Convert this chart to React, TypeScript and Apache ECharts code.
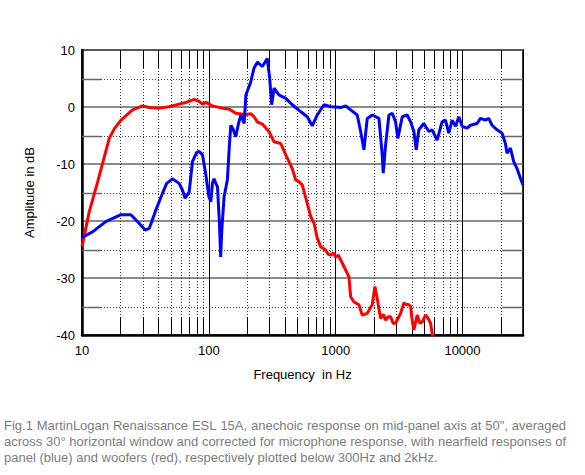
import React, { useEffect, useRef } from 'react';
import * as echarts from 'echarts';

const redFreq = [10, 11.4, 13.3, 16.4, 18, 20.3, 25, 30, 33.9, 40.6, 48.6, 58.3, 65.9, 76.6, 83.9, 89.2, 94.9, 106.6, 128, 144.5, 163, 196, 215, 227, 241, 264, 298, 327, 369, 404, 455, 484, 514, 546, 597, 635, 675, 716, 762, 834, 870, 914, 960, 1000, 1050, 1094, 1199, 1273, 1313, 1393, 1525, 1619, 1774, 1942, 2039, 2127, 2260, 2380, 2475, 2600, 2711, 2850, 2968, 3150, 3250, 3451, 3556, 3779, 3896, 4012, 4138, 4394, 4600, 4812, 5117, 5265, 5598, 5765, 5900];
const redDb = [-24.5, -18.4, -13.1, -5.5, -3.8, -2.3, -0.5, 0.2, -0.1, -0.2, 0.05, 0.5, 0.8, 1.35, 1.0, 0.5, 0.8, 0.2, -0.2, -0.35, -1.1, -1.3, -1.2, -1.7, -2.6, -3.0, -4.3, -6.1, -6.4, -8.4, -10.8, -12.8, -13.1, -13.7, -16.9, -19.2, -20.4, -23.0, -24.5, -25.1, -25.8, -26.0, -25.6, -26.3, -26.0, -26.8, -28.6, -29.8, -33.3, -34.2, -34.7, -36.5, -36.2, -34.7, -31.5, -33.6, -37.1, -36.4, -37.4, -36.8, -36.8, -38.0, -37.9, -36.8, -36.2, -34.4, -34.6, -34.7, -35.0, -37.4, -39.1, -36.5, -37.9, -37.7, -36.5, -36.8, -37.9, -39.7, -40.5];

const blueFreq = [10, 12.1, 15.4, 20.3, 24.3, 28.2, 31.5, 33.9, 38.2, 43.2, 46.5, 51.6, 58.3, 62, 65, 70, 74.3, 80, 83.9, 89.2, 94.7, 100, 103.8, 106.7, 110, 114, 117, 121, 124, 126.5, 132, 140, 145, 149, 156, 163, 171, 179, 190, 196, 214, 227, 242, 264, 289, 302, 313, 327, 358, 404, 455, 529, 597, 654, 716, 809, 914, 1000, 1094, 1199, 1313, 1479, 1574, 1671, 1774, 1942, 2194, 2329, 2372, 2475, 2630, 2793, 2968, 3093, 3350, 3664, 3896, 4138, 4318, 4528, 4955, 5433, 5765, 6310, 6902, 7337, 7798, 8281, 8810, 9354, 9937, 10870, 11560, 13030, 13860, 15170, 16110, 17110, 18740, 20510, 21800, 22450, 23880, 25350, 26910, 28620, 30000];
const blueDb = [-22.9, -21.9, -20.1, -18.9, -18.9, -20.4, -21.6, -21.3, -18.1, -15.1, -13.4, -12.6, -13.4, -14.6, -16.0, -14.9, -9.6, -8.0, -7.8, -8.4, -11.9, -15.7, -16.6, -13.4, -12.6, -13.5, -14.0, -20, -26.3, -21.6, -15.7, -12.8, -7, -3.2, -4.0, -5.2, -3.0, -1.4, -2.9, 2.1, 4.4, 6.8, 7.9, 7.1, 8.5, 5.0, 0.4, 3.3, 2.1, 1.5, 0.4, -0.8, -1.7, -3.3, -1.4, 0.4, 0.05, 0, -0.1, 0.2, -0.5, -1.4, -4.3, -7.5, -2.0, -1.4, -2.0, -8.4, -11.6, -6.7, -1.4, -1.1, -2.6, -5.5, -1.7, -1.4, -2.6, -4.3, -7.5, -4.0, -2.9, -4.3, -4.0, -5.8, -2.6, -2.3, -4.6, -2.3, -3.4, -1.7, -3.4, -3.7, -3.2, -2.9, -2.0, -2.3, -2.0, -3.2, -4.0, -4.6, -6.4, -8.1, -7.2, -9.6, -10.8, -12.5, -13.7];

const xTickLabels = ['10', '100', '1000', '10000'];
const minorFreqs = [20, 30, 40, 50, 60, 70, 80, 90, 200, 300, 400, 500, 600, 700, 800, 900, 2000, 3000, 4000, 5000, 6000, 7000, 8000, 9000, 20000];
const minorDb = [5, -5, -15, -25, -35];
const captionLines = [
  'Fig.1 MartinLogan Renaissance ESL 15A, anechoic response on mid-panel axis at 50", averaged',
  'across 30\u00b0 horizontal window and corrected for microphone response, with nearfield responses of',
  'panel (blue) and woofers (red), respectively plotted below 300Hz and 2kHz.',
];

const X_MIN = 10;
const X_MAX = 30000;
const Y_MIN = -40;
const Y_MAX = 10;
const FONT = '"Liberation Sans", Arial, sans-serif';
const CAP_SIZE = 13;

function captionGraphics() {
  const ctx = document.createElement('canvas').getContext('2d')!;
  ctx.font = `${CAP_SIZE}px "Liberation Sans"`;
  const measure = (s: string) => ctx.measureText(s).width;
  const left = 4;
  const right = 566;
  const els: any[] = [];
  captionLines.forEach((line, i) => {
    const y = 425 + i * 16.4;
    const base = { fill: '#7c7c7c', fontSize: CAP_SIZE, fontFamily: FONT, verticalAlign: 'middle' };
    if (i < captionLines.length - 1) {
      const words = line.split(' ');
      const total = words.reduce((a, w) => a + measure(w), 0);
      const gap = (right - left - total) / (words.length - 1);
      let x = left;
      words.forEach((w) => {
        els.push({ type: 'text', x, y, silent: true, style: { ...base, text: w } });
        x += measure(w) + gap;
      });
    } else {
      els.push({ type: 'text', x: left, y, silent: true, style: { ...base, text: line } });
    }
  });
  return els;
}

export default function App() {
  const ref = useRef<HTMLDivElement>(null);
  useEffect(() => {
    const chart = echarts.init(ref.current!, null, { renderer: 'svg' });
    const red = redFreq.map((f, i) => [f, redDb[i]]);
    const blue = blueFreq.map((f, i) => [f, blueDb[i]]);
    chart.setOption({
      animation: false,
      backgroundColor: '#fff',
      grid: {
        left: 82, right: 62, top: 50, bottom: 140,
        show: true, borderColor: '#333', borderWidth: 2,
      },
      xAxis: {
        type: 'log', logBase: 10, min: X_MIN, max: X_MAX,
        name: 'Frequency  in Hz', nameLocation: 'middle', nameGap: 33,
        nameTextStyle: { color: '#000', fontSize: 13, fontFamily: FONT },
        axisLine: { show: true, onZero: false, lineStyle: { color: '#000', width: 2.5 } },
        axisTick: { show: false },
        axisLabel: {
          color: '#000', fontSize: 13, fontFamily: FONT, margin: 9,
          formatter: (v: number) => {
            const s = String(Math.round(v));
            return xTickLabels.includes(s) ? s : '';
          },
        },
        splitLine: { show: true, lineStyle: { color: '#000', width: 1 } },
      },
      yAxis: {
        type: 'value', min: Y_MIN, max: Y_MAX, interval: 10,
        name: 'Amplitude in dB', nameLocation: 'middle', nameGap: 46,
        nameTextStyle: { color: '#000', fontSize: 13, fontFamily: FONT },
        axisLine: { show: true, onZero: false, lineStyle: { color: '#000', width: 2.5 } },
        axisTick: { show: false },
        axisLabel: { color: '#000', fontSize: 13, fontFamily: FONT, margin: 7 },
        splitLine: { show: true, lineStyle: { color: '#666', width: 1.5 } },
      },
      graphic: captionGraphics(),
      series: [
        {
          type: 'custom', z: 1, silent: true, clip: false,
          data: minorFreqs.map((f) => [f, Y_MIN]),
          renderItem: (params: any, api: any) => {
            const f = api.value(0);
            const top = api.coord([f, Y_MAX]);
            const bot = api.coord([f, Y_MIN]);
            const x = Math.round(top[0]) + 0.5;
            return {
              type: 'group', children: [
                { type: 'line', shape: { x1: x, y1: top[1] + 18, x2: x, y2: bot[1] - 18 }, style: { stroke: '#333', lineWidth: 1, lineDash: [1, 2] } },
                { type: 'line', shape: { x1: x, y1: top[1], x2: x, y2: top[1] + 18 }, style: { stroke: '#000', lineWidth: 1 } },
                { type: 'line', shape: { x1: x, y1: bot[1] - 18, x2: x, y2: bot[1] }, style: { stroke: '#000', lineWidth: 1 } },
              ],
            };
          },
        },
        {
          type: 'custom', z: 1, silent: true, clip: false,
          data: minorDb.map((d) => [X_MIN, d]),
          renderItem: (params: any, api: any) => {
            const d = api.value(1);
            const l = api.coord([X_MIN, d]);
            const r = api.coord([X_MAX, d]);
            const y = Math.round(l[1]) + 0.5;
            return {
              type: 'group', children: [
                { type: 'line', shape: { x1: l[0] + 19, y1: y, x2: r[0] - 21, y2: y }, style: { stroke: '#444', lineWidth: 1, lineDash: [1, 2] } },
                { type: 'line', shape: { x1: l[0], y1: y, x2: l[0] + 19, y2: y }, style: { stroke: '#666', lineWidth: 1.5 } },
                { type: 'line', shape: { x1: r[0] - 21, y1: y, x2: r[0], y2: y }, style: { stroke: '#666', lineWidth: 1.5 } },
              ],
            };
          },
        },
        {
          type: 'line', name: 'woofers', data: red, showSymbol: false, symbol: 'none', z: 3,
          lineStyle: { color: '#ff0000', width: 3 }, clip: true,
        },
        {
          type: 'line', name: 'panel', data: blue, showSymbol: false, symbol: 'none', z: 4,
          lineStyle: { color: '#0000ff', width: 3 }, clip: true,
        },
      ],
    });
    return () => chart.dispose();
  }, []);
  return <div ref={ref} style={{ position: 'fixed', left: 0, top: 0, width: 585, height: 475 }} />;
}
